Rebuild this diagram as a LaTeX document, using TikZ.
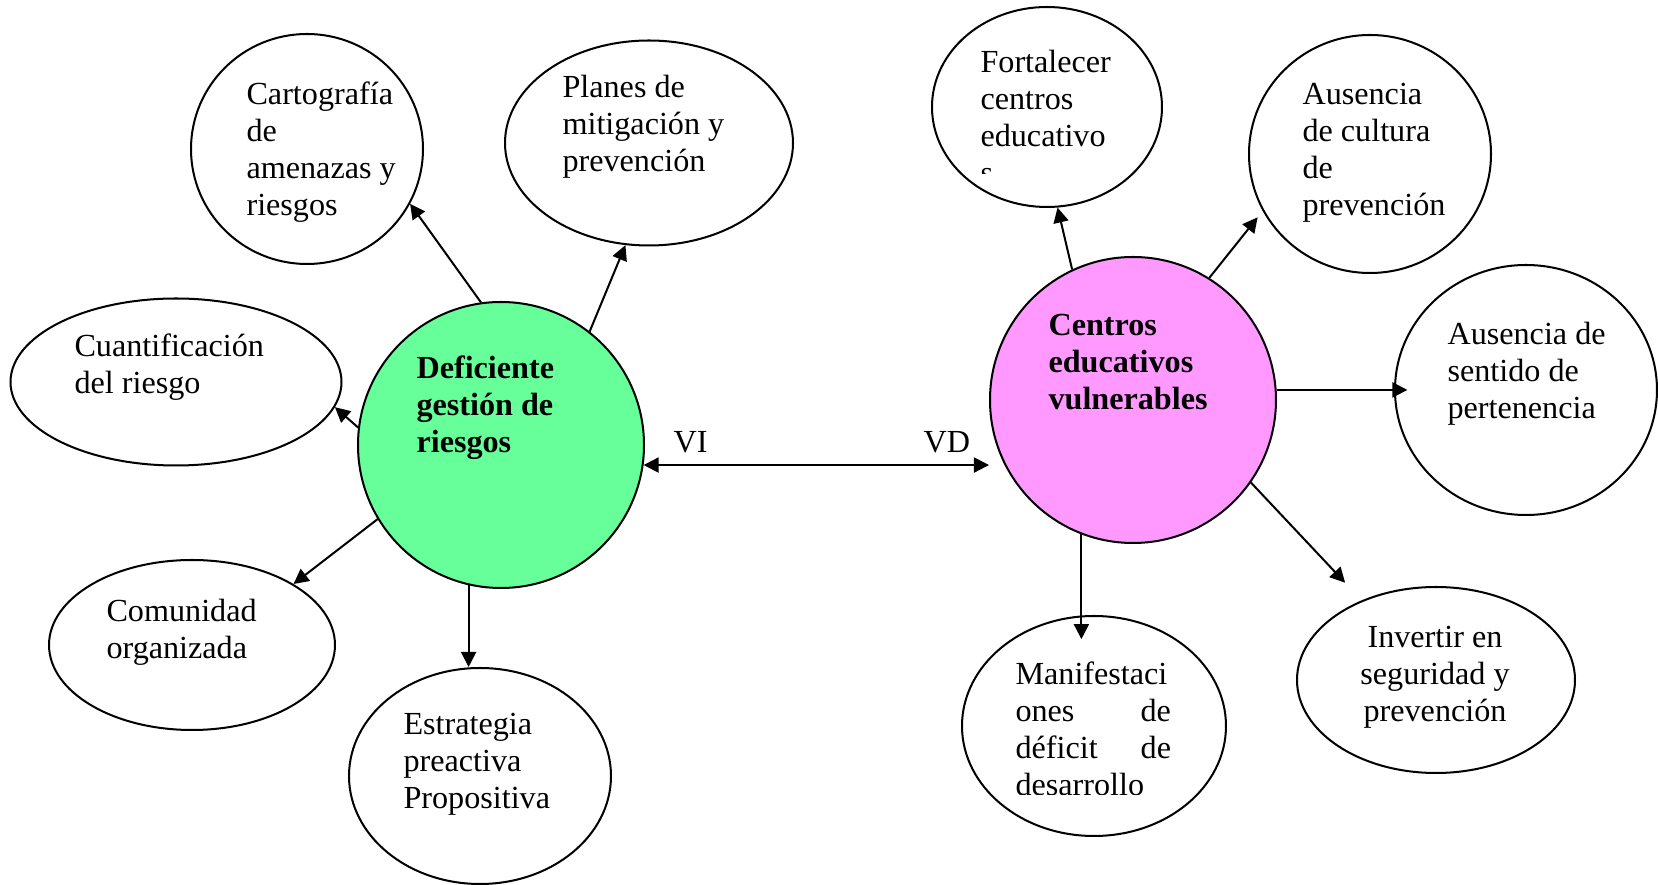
\documentclass[tikz,border=0pt]{standalone}
\usepackage{fontspec}
\setmainfont{Liberation Serif}
\usetikzlibrary{shapes.geometric}
\usetikzlibrary{arrows.meta}
\definecolor{vigreen}{RGB}{102,255,153}
\definecolor{vdpink}{RGB}{255,153,255}

\begin{document}
\begin{tikzpicture}[x=0.373pt,y=-0.373pt,
  >={Triangle[length=5.6pt,width=5.6pt]},
  core/.style={circle,draw,line width=0.75pt,inner sep=0pt,minimum size=286*0.373pt},
  bubble/.style 2 args={ellipse,draw,line width=0.75pt,inner sep=0pt,minimum width=#1*0.373pt,minimum height=#2*0.373pt},
  txt/.style={align=flush left,text width=80pt,inner sep=0pt,anchor=base west,font=\fontsize{12}{13.8}\selectfont},
  boldtxt/.style={txt,font=\fontsize{12}{13.8}\selectfont\bfseries},
  link/.style={->,line width=0.75pt}]
\useasboundingbox (0,0) rectangle (1658,885);

\node[core,fill=vigreen] (vi) at (501,445) {};
\node[core,fill=vdpink] (vd) at (1133,400) {};
\node[boldtxt] (vitxt) at (416,379) {Deficiente\\gestión de\\riesgos};
\node[boldtxt] (vdtxt) at (1048,336) {Centros\\educativos\\vulnerables};

\node[bubble={232}{230}] (carto) at (307,149) {};
\node[bubble={288}{205}] (planes) at (649,143) {};
\node[bubble={331}{167}] (cuant) at (176,382) {};
\node[bubble={286}{170}] (comun) at (192,645) {};
\node[bubble={262}{216}] (estra) at (480,776) {};
\node[bubble={230}{200}] (forta) at (1047,107) {};
\node[bubble={242}{238}] (cultu) at (1370,154) {};
\node[bubble={262}{250}] (senti) at (1526,390) {};
\node[bubble={278}{186}] (inver) at (1436,680) {};
\node[bubble={264}{220}] (manif) at (1094,726) {};

\node[txt] (cartotxt) at (246,105) {Cartografía\\de\\amenazas y\\riesgos};
\node[txt] (planestxt) at (562,98) {Planes de\\mitigación y\\prevención};
\node[txt] (cuanttxt) at (74,357) {Cuantificación\\del riesgo};
\node[txt] (comuntxt) at (106,622) {Comunidad\\organizada};
\node[txt] (estratxt) at (403,735) {Estrategia\\preactiva\\Propositiva};
\begin{scope}
\clip (900,0) rectangle (1200,174);
\node[txt] (fortatxt) at (980,73) {Fortalecer\\centros\\educativo\\s};
\end{scope}
\node[txt] (cultutxt) at (1302,105) {Ausencia\\de cultura\\de\\prevención};
\node[txt] (sentitxt) at (1447,345) {Ausencia de\\sentido de\\pertenencia};
\node[txt,align=flush center,anchor=base] (invertxt) at (1435,648) {Invertir en\\seguridad y\\prevención};
\begin{scope}
\clip (980,640) rectangle (1200,795);
\node[txt,text width=58pt] (maniftxt) at (1015,685) {Manifestaci\\ones\hfill de\\déficit\hfill de\\desarrollo};
\end{scope}

\node[txt] (vilbl) at (673,453) {VI};
\node[txt] (vdlbl) at (923,453) {VD};

\draw[link] (vi.98) -- (carto.-28);
\draw[link] (vi.52) -- (planes.257);
\draw[link] (vi.173) -- (cuant.-9);
\draw[link] (vi.211) -- (comun.31);
\draw[link] (vi.257) -- (vi.257 |- estra.north);
\draw[link,<->] (vi.-8) -- (vi.-8 -| vd.west);
\draw[link] (vd.115) -- (forta.-84);
\draw[link,shorten >=3pt] (vd.58) -- (cultu.208);
\draw[link,shorten >=-5pt] (vd.4) -- (vd.4 -| senti.west);
\draw[link,shorten >=9pt] (vd.-35) -- (inver.133);
\draw[link,shorten >=-9pt] (vd.249) -- (vd.249 |- manif.north);
\end{tikzpicture}
\end{document}
